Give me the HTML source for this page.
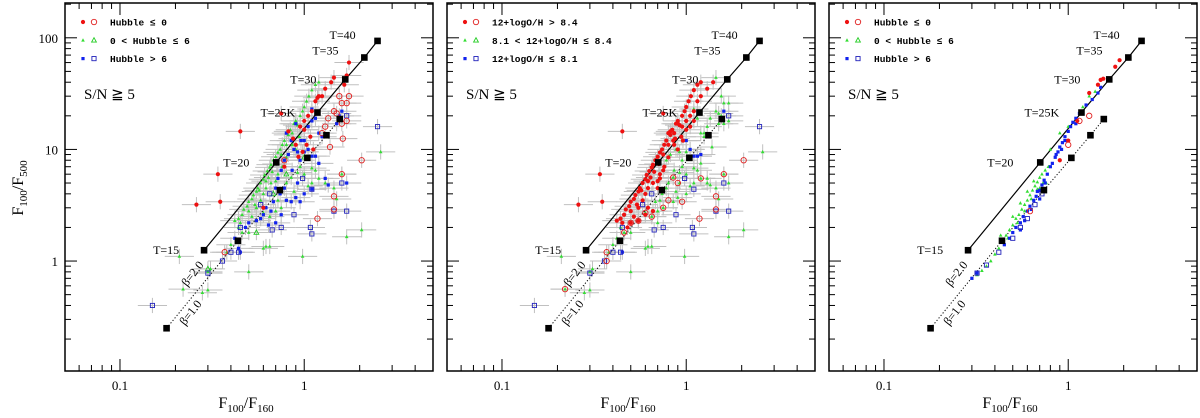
<!DOCTYPE html>
<html><head><meta charset="utf-8"><style>
html,body{margin:0;padding:0;background:#fff;}
svg{display:block;}
.tk{font-family:"Liberation Serif",serif;font-size:13px;fill:#000;}
.lg{font-family:"Liberation Mono",monospace;font-size:9.5px;font-weight:bold;fill:#000;}
.tl{font-family:"Liberation Serif",serif;font-size:12px;fill:#000;}
</style></head><body>
<svg id="chart" width="1200" height="418" xmlns="http://www.w3.org/2000/svg"></svg>
<script>
// ---- model tracks ----
const solidX=[0.286,0.705,1.18,1.67,2.12,2.5];
const solidY=[1.25,7.65,21.4,42.4,66.6,93.8];
const solidLab=["T=15","T=20","T=25K","T=30","T=35","T=40"];
const dotX=[0.179,0.437,0.738,1.04,1.32,1.56];
const dotY=[0.25,1.52,4.32,8.4,13.4,18.7];
// ---- panel 1 (Hubble type) ----
const p1RedF=[[0.45,14.5],[0.34,6],[0.26,3.2],[0.35,3.4],[0.75,21],[0.82,14.5],[0.87,12.5],[0.9,11],[0.95,16],[1.0,18],[1.05,20],[1.1,22],[1.15,27],[1.18,29],[1.2,30],[1.3,35],[1.4,40],[1.45,44],[1.75,60],[1.7,46],[1.65,38],[0.93,8.6],[1.03,11],[1.08,13],[0.78,7],[0.6,3],[1.12,10],[0.98,9.5],[1.25,30],[1.0,15]];
const p1RedO=[[1.55,30],[1.75,30],[1.6,26],[1.7,26],[1.45,22],[1.6,17],[1.7,18],[1.62,12.5],[1.38,10.5],[1.3,16],[2.05,8],[1.6,6],[1.45,3.8],[1.45,2.9],[1.18,2.4],[0.37,1.2],[1.35,19],[1.5,21],[0.78,8],[1.25,14]];
const p1GreenBand=[[0.42,2.3],[0.44,2.4],[0.46,2.6],[0.47,2.9],[0.49,3.1],[0.5,3.4],[0.52,3.6],[0.53,3.9],[0.55,4.2],[0.56,4.5],[0.57,4.3],[0.58,5],[0.6,5.4],[0.61,5.9],[0.62,5.2],[0.63,6.4],[0.64,5.6],[0.65,6.9],[0.66,7.3],[0.67,6.3],[0.68,8],[0.7,8.6],[0.71,7.4],[0.72,9.4],[0.74,10],[0.75,9],[0.76,11],[0.78,12],[0.8,11],[0.82,13.5],[0.84,15],[0.86,14],[0.88,17],[0.9,18],[0.92,16.5],[0.95,20],[0.98,22],[1.0,24],[1.03,27],[1.06,30],[1.1,34],[1.15,38],[1.2,40],[0.5,2.8],[0.54,3.2],[0.6,4],[0.66,5],[0.72,6],[0.8,8.5],[0.86,11],[0.94,13],[0.52,2.5],[0.58,3.5],[0.7,5.2],[0.45,2.2],[0.62,4.5],[0.76,7],[0.9,10],[1.0,18],[0.55,3]];
const p1GreenScat=[[2.6,9.5],[2.05,1.9],[1.7,1.65],[0.98,1.1],[0.5,0.8],[0.3,0.55],[0.28,0.52],[0.22,0.56],[0.21,1.1],[0.3,0.8],[0.31,0.85],[0.65,1.35],[0.62,1.35],[0.5,1.8],[0.46,1.8],[0.44,2.0],[0.55,2.3],[0.6,1.3],[0.4,1.4],[0.38,1.2],[1.05,4.7],[1.1,5],[1.3,5],[1.45,4.5],[1.2,5.5],[1.0,6],[0.92,6.2],[0.85,5.6],[0.8,5],[0.72,3.5],[0.75,3],[0.7,2.8],[1.5,3.6],[1.15,6.5],[0.88,4.2],[0.65,2.5],[0.6,2.7],[0.95,7],[1.1,6.8],[1.6,6]];
const p1GreenO=[[0.68,4],[0.55,1.8],[1.0,8.5],[0.8,6],[0.3,0.85]];
const p1BlueF=[[0.8,14],[0.85,12],[0.9,17],[0.88,10],[0.82,9],[0.78,8],[0.75,6.5],[0.72,5.5],[0.7,4.5],[0.74,4],[0.78,4.5],[0.8,3.5],[0.85,3.4],[0.9,3.7],[0.95,3.4],[0.68,3.4],[0.62,3],[0.6,2.6],[0.55,2.3],[0.5,2.2],[0.48,2.0],[0.7,2.2],[0.75,2.6],[0.66,2.8],[0.95,8],[1.0,9.5],[1.05,10],[1.1,8.7],[1.15,8.7],[1.2,7.5],[1.3,5.5],[1.35,4.8],[1.1,4.4],[1.0,4],[0.92,5],[0.96,12],[1.0,15],[1.05,16],[1.1,18],[1.15,19],[1.1,23],[1.6,22],[1.55,20],[1.5,17],[0.42,1.6],[0.45,1.2],[0.44,1.3],[1.2,14],[1.25,13],[1.7,5],[0.86,6.5],[0.64,2.1],[0.58,2.4],[1.0,12],[0.92,9.5]];
const p1BlueO=[[0.15,0.4],[0.3,0.78],[0.4,1.2],[0.44,1.2],[0.67,1.9],[0.75,2.0],[1.08,2.0],[1.1,1.75],[1.1,4.4],[1.45,2.8],[1.7,2.8],[1.6,5],[0.58,3.2],[0.88,2.6],[0.65,4],[2.5,16],[1.7,20],[0.98,5.5],[0.45,2.0],[0.36,1.0]];
// ---- panel 2 (metallicity) ----
const p2RedF=p1GreenBand.concat([[0.45,14.5],[0.34,6],[0.26,3.2],[0.35,3.4],[0.75,21],[0.82,14.5],[0.87,12.5],[0.95,16],[1.0,18],[1.05,20],[1.1,22],[1.15,27],[1.2,30],[1.3,35],[1.4,40],[0.96,12],[1.0,15],[1.05,16],[1.1,18],[0.9,17],[0.85,12],[0.8,14],[0.75,6.5],[0.72,5.5],[0.7,4.5],[0.62,3],[0.6,2.6],[0.55,2.3],[0.5,2.2],[0.48,2.0],[0.66,2.8]]);
const p2RedO=[[2.05,8],[1.45,3.8],[1.45,2.9],[1.18,2.4],[0.37,1.2],[0.22,0.56],[0.37,1.0],[0.75,3],[0.8,3.5],[0.6,2.7],[0.55,2.3],[0.65,2.5],[0.9,5],[0.95,3.4],[0.85,5.6],[1.2,5.5],[0.5,2.2],[0.46,1.8],[1.6,6]];
const p2GreenF=p1GreenScat.concat([[0.88,10],[0.82,9],[0.78,8],[0.74,4],[0.78,4.5],[0.85,3.4],[0.9,3.7],[0.68,3.4],[0.7,2.2],[0.95,8],[1.0,9.5],[1.05,10],[1.15,8.7],[1.2,7.5],[1.3,5.5],[1.35,4.8],[1.0,4],[0.92,5],[1.15,19],[1.1,23],[1.55,20],[1.5,17],[0.42,1.6],[1.2,14],[1.25,13],[1.7,5],[0.86,6.5],[1.0,12],[0.92,9.5],[1.55,30],[1.6,26],[1.7,26],[1.45,22],[1.6,17],[1.38,10.5],[1.3,16],[1.35,19],[1.5,21],[1.25,14],[1.7,18],[1.45,44]]);
const p2BlueF=[[1.6,22],[1.1,8.7],[1.0,12],[1.05,10],[1.15,8.7],[1.2,9],[0.45,1.2]];
const p2BlueO=p1BlueO;
// ---- panel 3 (model) ----
const p3GreenF=[[0.3,0.7],[0.32,0.75],[0.34,0.82],[0.36,0.9],[0.38,1.0],[0.4,1.15],[0.42,1.3],[0.44,1.5],[0.46,1.7],[0.48,1.9],[0.5,2.1],[0.52,2.4],[0.54,2.6],[0.56,2.9],[0.58,3.2],[0.6,3.5],[0.62,3.9],[0.64,4.3],[0.66,4.7],[0.68,5.1],[0.7,5.6],[0.72,6],[0.75,6.5],[0.5,2.5],[0.55,3.3],[0.6,4.2],[0.65,5.2],[0.53,2.2],[0.58,2.8],[0.63,3.6],[0.68,4.4],[0.73,5],[0.47,1.6],[0.43,1.7],[0.8,10],[0.9,14],[1.2,24],[1.4,33],[1.3,30],[1.0,16],[0.78,7],[0.7,4.5],[0.76,5]];
const p3BlueF=[[0.3,0.7],[0.32,0.78],[0.45,1.4],[0.48,1.6],[0.5,1.8],[0.52,2],[0.55,2.2],[0.57,2.5],[0.6,2.8],[0.62,3.1],[0.65,3.5],[0.67,3.8],[0.7,4.3],[0.72,4.8],[0.74,5.3],[0.77,6],[0.8,7],[0.82,7.5],[0.85,8.5],[0.88,9.5],[0.9,10.5],[0.93,11.5],[0.96,13],[1.0,14.5],[1.03,16],[1.06,17.5],[1.1,19],[1.15,21],[1.2,22],[1.25,25],[1.35,28],[1.45,32],[1.5,36],[0.68,4.2],[0.75,5],[0.58,2.3],[0.63,2.9],[0.86,9],[0.92,10],[0.7,3.6],[1.1,17],[0.96,12],[0.55,1.9]];
const p3BlueO=[[0.32,0.78],[0.36,0.92],[0.42,1.2],[0.5,1.6],[0.55,2.0],[0.6,2.4],[0.66,3.2],[0.72,4.0]];
const p3RedF=[[1.9,63],[1.8,55],[1.5,42],[1.55,43],[1.12,18],[1.0,12],[0.9,8],[1.3,32],[1.45,38]];
const p3RedO=[[1.3,20],[1.0,11],[0.62,2.8],[1.15,18]];
// ---- tick labels ----
const xTickVals=[0.1,1];const xTickLabs=["0.1","1"];
const yTickVals=[1,10,100];const yTickLabs=["1","10","100"];

const NS="http://www.w3.org/2000/svg";
const svg=document.getElementById('chart');
const TOP=3,BOT=371,W=368;
const panelsL=[65,447,829];
const X0=Math.log10(0.0503),X1=Math.log10(5.0);
const Y0=Math.log10(0.1035),Y1=Math.log10(205);
function mk(tag,attrs,parent){const e=document.createElementNS(NS,tag);for(const k in attrs)e.setAttribute(k,attrs[k]);(parent||svg).appendChild(e);return e;}
function sx(L,v){return L+(Math.log10(v)-X0)/(X1-X0)*W;}
function sy(v){return BOT-(Math.log10(v)-Y0)/(Y1-Y0)*(BOT-TOP);}

function drawSym(g,type,px,py){
  let e;
  if(type==='redF'){e=mk('circle',{cx:px,cy:py,r:2.1,fill:'#ee1111'},g);}
  else if(type==='redO'){e=mk('circle',{cx:px,cy:py,r:2.7,fill:'none',stroke:'#e02020','stroke-width':0.9},g);}
  else if(type==='greenF'){e=mk('polygon',{points:`${px},${py-2} ${px-1.8},${py+1.3} ${px+1.8},${py+1.3}`,fill:'#33dd33'},g);}
  else if(type==='greenO'){e=mk('polygon',{points:`${px},${py-2.6} ${px-2.4},${py+1.8} ${px+2.4},${py+1.8}`,fill:'none',stroke:'#22cc22','stroke-width':0.9},g);}
  else if(type==='blueF'){e=mk('rect',{x:px-1.6,y:py-1.6,width:3.2,height:3.2,fill:'#1122ee'},g);}
  else if(type==='blueO'){e=mk('rect',{x:px-2.1,y:py-2.1,width:4.2,height:4.2,fill:'none',stroke:'#2222bb','stroke-width':0.9},g);}
  return e;
}

function panel(i,series,errs,legend){
  const L=panelsL[i];
  const g=mk('g',{});
  
  
  if(errs){
    const eg=mk('g',{stroke:'#c0c0c0','stroke-width':1},g);
    
    
    series.forEach(s=>s.pts.forEach(p=>{
      const px=sx(L,p[0]),py=sy(p[1]);
      mk('line',{x1:sx(L,p[0]/1.2),x2:sx(L,p[0]*1.2),y1:py,y2:py},eg);
      mk('line',{x1:px,x2:px,y1:sy(p[1]/1.17),y2:sy(p[1]*1.17)},eg);
    }));
  }
  let d='';solidX.forEach((x,k)=>{d+=(k?'L':'M')+sx(L,x)+','+sy(solidY[k]);});
  const sl=mk('path',{d:d,stroke:'#000','stroke-width':1.2,fill:'none'},g);
  
  
  d='';dotX.forEach((x,k)=>{d+=(k?'L':'M')+sx(L,x)+','+sy(dotY[k]);});
  const dl=mk('path',{d:d,stroke:'#000','stroke-width':1,'stroke-dasharray':'1.2,2',fill:'none'},g);
  
  
  series.forEach(s=>{
    const sg=mk('g',{},g);
    
    
    s.pts.forEach(p=>{const e=drawSym(sg,s.type,sx(L,p[0]),sy(p[1]));
      
      });
  });
  const lblOff=[[-51,4],[-53,4],[-57,4],[-55,4],[-52,-3],[-48,-2]];
  solidX.forEach((x,k)=>{
    const px=sx(L,x),py=sy(solidY[k]);
    const r=mk('rect',{x:px-3.3,y:py-3.3,width:6.6,height:6.6,fill:'#000'},g);
    
    
    const t=mk('text',{x:px+lblOff[k][0],y:py+lblOff[k][1],class:'tl'},g);
    t.textContent=solidLab[k];
    
    
  });
  dotX.forEach((x,k)=>{
    const r=mk('rect',{x:sx(L,x)-3.3,y:sy(dotY[k])-3.3,width:6.6,height:6.6,fill:'#000'},g);
    
    
  });
  const b2=mk('text',{x:0,y:0,class:'tl',transform:`translate(${L+122},${287}) rotate(-52)`},g);
  b2.textContent='β=2.0';
  
  
  const b1=mk('text',{x:0,y:0,class:'tl',transform:`translate(${L+120},${326}) rotate(-52)`},g);
  b1.textContent='β=1.0';
  
  
  const fr=mk('rect',{x:L,y:TOP,width:W,height:BOT-TOP,fill:'none',stroke:'#000','stroke-width':1.5},g);
  
  
  const tg=mk('g',{stroke:'#000','stroke-width':1},g);
  
  
  for(let dec=-2;dec<=0;dec++)for(let m=1;m<=9;m++){
    const v=m*Math.pow(10,dec);if(v<0.0503||v>5)continue;
    const px=sx(L,v),len=m===1?12:6;
    mk('line',{x1:px,x2:px,y1:BOT,y2:BOT-len},tg);mk('line',{x1:px,x2:px,y1:TOP,y2:TOP+len},tg);
  }
  for(let dec=-1;dec<=2;dec++)for(let m=1;m<=9;m++){
    const v=m*Math.pow(10,dec);if(v<0.1035||v>205)continue;
    const py=sy(v),len=m===1?12:6;
    mk('line',{x1:L,x2:L+len,y1:py,y2:py},tg);mk('line',{x1:L+W,x2:L+W-len,y1:py,y2:py},tg);
  }
  xTickVals.forEach((v,k)=>{const t=mk('text',{x:sx(L,v),y:390,'text-anchor':'middle',class:'tk'},g);t.textContent=xTickLabs[k];
    });
  if(i===0){
    yTickVals.forEach((v,k)=>{const t=mk('text',{x:L-7,y:sy(v)+5,'text-anchor':'end',class:'tk'},g);t.textContent=yTickLabs[k];
      });
    const yl=mk('text',{x:0,y:0,transform:'translate(23,188) rotate(-90)','text-anchor':'middle',class:'tk',style:'font-size:16px'},g);
    yl.innerHTML='F<tspan dy="4" font-size="11">100</tspan><tspan dy="-4">/F</tspan><tspan dy="4" font-size="11">500</tspan>';
    
  }
  const xl=mk('text',{x:L+W/2-3,y:408,'text-anchor':'middle',class:'tk',style:'font-size:16px'},g);
  xl.innerHTML='F<tspan dy="4" font-size="11">100</tspan><tspan dy="-4">/F</tspan><tspan dy="4" font-size="11">160</tspan>';
  
  const lg=mk('g',{},g);
  
  
  legend.forEach((row,k)=>{
    const y=22+k*18.3;
    const re=mk('g',{},lg);
    
    
    drawSym(re,row[0],L+18,y);drawSym(re,row[1],L+29,y);
    const t=mk('text',{x:L+45,y:y+3.5,class:'lg'},re);t.textContent=row[2];
  });
  const sn=mk('text',{x:L+19,y:99,class:'tk',style:'font-size:15px'},g);
  sn.textContent='S/N ≧ 5';
  
}
const hubLeg=[['redF','redO','Hubble ≤ 0'],['greenF','greenO','0 < Hubble ≤ 6'],['blueF','blueO','Hubble > 6']];
const metLeg=[['redF','redO','12+logO/H > 8.4'],['greenF','greenO','8.1 < 12+logO/H ≤ 8.4'],['blueF','blueO','12+logO/H ≤ 8.1']];
panel(0,[{name:'green-filled',type:'greenF',pts:p1GreenBand.concat(p1GreenScat)},{name:'green-open',type:'greenO',pts:p1GreenO},{name:'blue-filled',type:'blueF',pts:p1BlueF},{name:'blue-open',type:'blueO',pts:p1BlueO},{name:'red-open',type:'redO',pts:p1RedO},{name:'red-filled',type:'redF',pts:p1RedF}],true,hubLeg);
panel(1,[{name:'green-filled',type:'greenF',pts:p2GreenF},{name:'blue-filled',type:'blueF',pts:p2BlueF},{name:'blue-open',type:'blueO',pts:p2BlueO},{name:'red-open',type:'redO',pts:p2RedO},{name:'red-filled',type:'redF',pts:p2RedF}],true,metLeg);
panel(2,[{name:'green-filled',type:'greenF',pts:p3GreenF},{name:'blue-filled',type:'blueF',pts:p3BlueF},{name:'blue-open',type:'blueO',pts:p3BlueO},{name:'red-open',type:'redO',pts:p3RedO},{name:'red-filled',type:'redF',pts:p3RedF}],false,hubLeg);
</script>
</body></html>
